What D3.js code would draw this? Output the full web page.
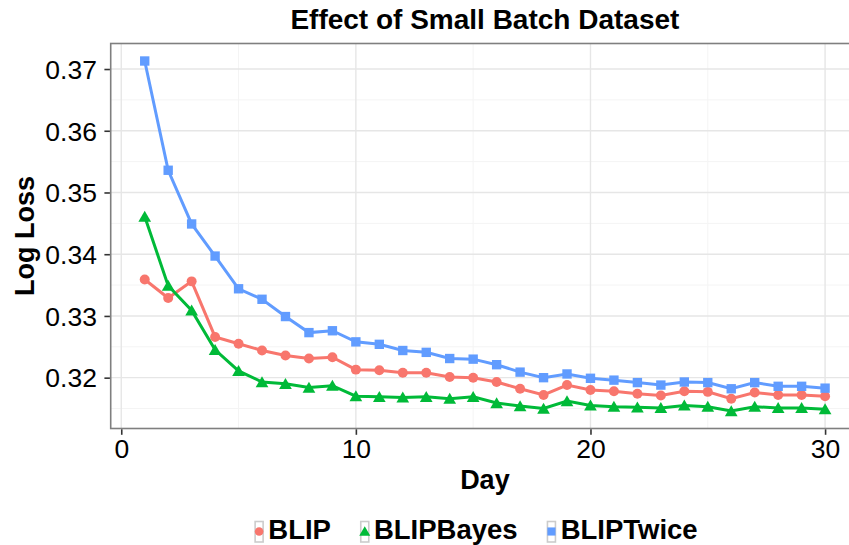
<!DOCTYPE html>
<html>
<head>
<meta charset="utf-8">
<script src="https://cdn.jsdelivr.net/npm/d3@7"></script>
<style>
body { margin: 0; overflow: hidden; background: #fff; }
text { font-family: "Liberation Sans", Arial, sans-serif; }
</style>
</head>
<body>
<script>
// values
var days = d3.range(1, 31);
var blip = [0.3359, 0.3329, 0.3356, 0.3266, 0.3255, 0.3244, 0.3236, 0.3231, 0.3233, 0.3213,
            0.3212, 0.3208, 0.3208, 0.3201, 0.3200, 0.3193, 0.3182, 0.3172, 0.3188, 0.3180,
            0.3178, 0.3174, 0.3171, 0.3178, 0.3177, 0.3166, 0.3176, 0.3172, 0.3172, 0.3170];
var blipBayes = [0.3461, 0.3349, 0.3309, 0.3245, 0.3211, 0.3193, 0.3190, 0.3184, 0.3187, 0.3170,
                 0.3169, 0.3168, 0.3169, 0.3166, 0.3169, 0.3159, 0.3154, 0.3150, 0.3162, 0.3155,
                 0.3153, 0.3152, 0.3151, 0.3155, 0.3153, 0.3146, 0.3153, 0.3151, 0.3151, 0.3149];
var blipTwice = [0.3713, 0.3536, 0.3449, 0.3397, 0.3344, 0.3327, 0.3299, 0.3273, 0.3276, 0.3258,
                 0.3254, 0.3244, 0.3241, 0.3231, 0.3230, 0.3221, 0.3209, 0.3200, 0.3206, 0.3199,
                 0.3196, 0.3192, 0.3188, 0.3193, 0.3192, 0.3182, 0.3192, 0.3186, 0.3186, 0.3183];
var seriesNames = ["BLIP", "BLIPBayes", "BLIPTwice"];
var xTicks = [0, 10, 20, 30];
var xMinor = [5, 15, 25, 35];
var yTicks = [0.32, 0.33, 0.34, 0.35, 0.36, 0.37];
var yMinor = [0.315, 0.325, 0.335, 0.345, 0.355, 0.365];

var colors = ["#F8766D", "#00BA38", "#619CFF"];
var shapes = [d3.symbolCircle, d3.symbolTriangle, d3.symbolSquare];
var symSizes = [78, 70, 88];

var width = 849, height = 545;
// panel box; right side runs past the picture edge like in the original
var pLeft = 110.7, pTop = 43.5, pBottom = 428.5, pRight = 859.1;

var series = [blip, blipBayes, blipTwice].map(function(vals, i) {
    return { name: seriesNames[i], values: vals.map(function(v, j) { return { day: days[j], v: v }; }) };
});

// ggplot style 5% expansion
var xExt = d3.extent(days);
var xPad = (xExt[1] - xExt[0]) * 0.05;
var allVals = blip.concat(blipBayes, blipTwice);
var yExt = d3.extent(allVals);
var yPad = (yExt[1] - yExt[0]) * 0.05;

var x = d3.scaleLinear().domain([xExt[0] - xPad, xExt[1] + xPad]).range([pLeft, pRight]);
var y = d3.scaleLinear().domain([yExt[0] - yPad, yExt[1] + yPad]).range([pBottom, pTop]);

var svg = d3.select("body")
    .append("svg")
    .attr("width", width)
    .attr("height", height);

svg.append("rect").attr("width", width).attr("height", height).attr("fill", "#fff");

var grid = svg.append("g");
grid.selectAll(".ym").data(yMinor).enter().append("line")
    .attr("x1", pLeft).attr("x2", pRight)
    .attr("y1", function(d) { return y(d); }).attr("y2", function(d) { return y(d); })
    .attr("stroke", "#f4f4f4").attr("stroke-width", 1);
grid.selectAll(".xm").data(xMinor).enter().append("line")
    .attr("y1", pTop).attr("y2", pBottom)
    .attr("x1", function(d) { return x(d); }).attr("x2", function(d) { return x(d); })
    .attr("stroke", "#f4f4f4").attr("stroke-width", 1);
grid.selectAll(".yM").data(yTicks).enter().append("line")
    .attr("x1", pLeft).attr("x2", pRight)
    .attr("y1", function(d) { return y(d); }).attr("y2", function(d) { return y(d); })
    .attr("stroke", "#e6e6e6").attr("stroke-width", 1.4);
grid.selectAll(".xM").data(xTicks).enter().append("line")
    .attr("y1", pTop).attr("y2", pBottom)
    .attr("x1", function(d) { return x(d); }).attr("x2", function(d) { return x(d); })
    .attr("stroke", "#e6e6e6").attr("stroke-width", 1.4);

var line = d3.line()
    .x(function(d) { return x(d.day); })
    .y(function(d) { return y(d.v); });

svg.selectAll("path.series")
    .data(series)
    .enter()
    .append("path")
    .attr("class", "series")
    .attr("d", function(d) { return line(d.values); })
    .attr("fill", "none")
    .attr("stroke", function(d, i) { return colors[i]; })
    .attr("stroke-width", 3);

series.forEach(function(s, i) {
    var sym = d3.symbol().type(shapes[i]).size(symSizes[i]);
    svg.append("g").selectAll("path")
        .data(s.values)
        .enter()
        .append("path")
        .attr("transform", function(d) {
            var dy = i === 1 ? 1.5 : 0;
            return "translate(" + x(d.day) + "," + (y(d.v) + dy) + ")";
        })
        .attr("d", sym)
        .attr("fill", colors[i]);
});

// panel border
svg.append("rect")
    .attr("x", pLeft).attr("y", pTop)
    .attr("width", pRight - pLeft).attr("height", pBottom - pTop)
    .attr("fill", "none").attr("stroke", "#7f7f7f").attr("stroke-width", 1.6);

// axes
var xAxis = d3.axisBottom(x).tickValues(xTicks).tickSize(5.5).tickFormat(d3.format("d"));
var yAxis = d3.axisLeft(y).tickValues(yTicks).tickSize(5.5).tickFormat(d3.format(".2f"));

var gx = svg.append("g").attr("transform", "translate(0," + (pBottom + 0.8) + ")").call(xAxis);
var gy = svg.append("g").attr("transform", "translate(" + (pLeft - 0.8) + ",0)").call(yAxis);
[gx, gy].forEach(function(g) {
    g.select(".domain").remove();
    g.selectAll(".tick line").attr("stroke", "#333").attr("stroke-width", 1.6);
    g.selectAll(".tick text")
        .attr("font-size", "26.5px")
        .attr("fill", "#000")
        .style("font-family", "'Liberation Sans', Arial, sans-serif");
});
gx.selectAll(".tick text").attr("y", 10).attr("dy", "0.71em");
gy.selectAll(".tick text").attr("x", -13).attr("dy", "0.35em");

// titles
svg.append("text")
    .attr("x", (pLeft + pRight) / 2).attr("y", 29.3)
    .attr("text-anchor", "middle")
    .attr("font-size", "28px").attr("font-weight", "bold")
    .text("Effect of Small Batch Dataset");

svg.append("text")
    .attr("x", (pLeft + pRight) / 2).attr("y", 489)
    .attr("text-anchor", "middle")
    .attr("font-size", "27px").attr("font-weight", "bold")
    .text("Day");

svg.append("text")
    .attr("transform", "translate(34," + ((pTop + pBottom) / 2) + ") rotate(-90)")
    .attr("text-anchor", "middle")
    .attr("font-size", "27px").attr("font-weight", "bold")
    .text("Log Loss");

// legend
var legend = svg.append("g");
var lx = 0;
seriesNames.forEach(function(name, i) {
    var item = legend.append("g").attr("transform", "translate(" + lx + ",0)");
    item.append("rect")
        .attr("x", 0.8).attr("y", 521.5)
        .attr("width", 8).attr("height", 20.5)
        .attr("fill", "#fff").attr("stroke", "#cccccc").attr("stroke-width", 1.6);
    item.append("path")
        .attr("transform", "translate(4.8," + (i === 1 ? 532.5 : 531.5) + ")")
        .attr("d", d3.symbol().type(shapes[i]).size(symSizes[i] * 0.75))
        .attr("fill", colors[i]);
    var t = item.append("text")
        .attr("x", 14).attr("y", 539.3)
        .attr("font-size", "27.5px").attr("font-weight", "bold")
        .text(name);
    lx += 14 + t.node().getComputedTextLength() + 29;
});
var legendWidth = lx - 29;
legend.attr("transform", "translate(" + (476 - legendWidth / 2) + ",0)");
</script>
</body>
</html>
